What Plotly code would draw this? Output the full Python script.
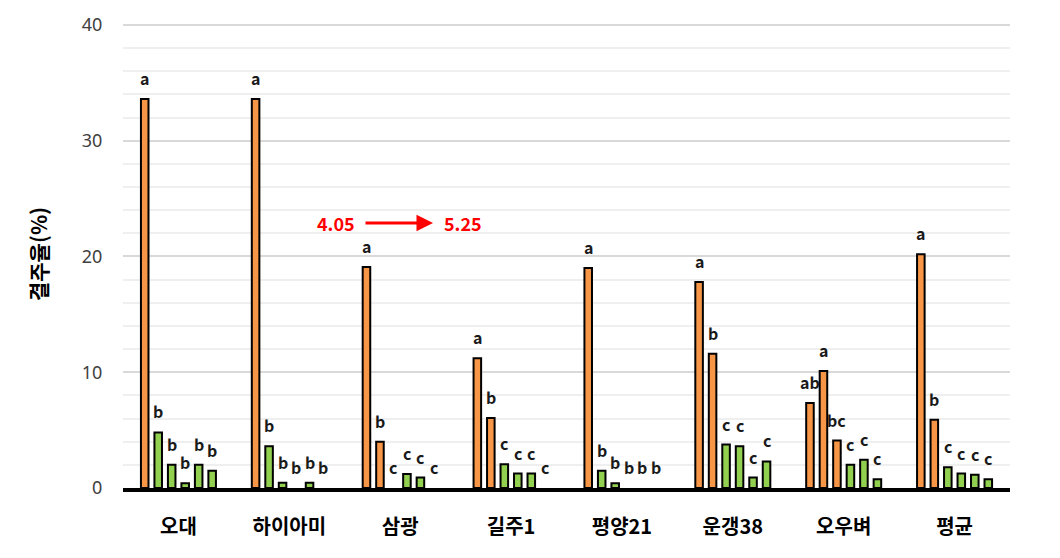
import plotly.graph_objects as go

categories = ["오대", "하이아미", "삼광", "길주1", "평양21", "운갱38", "오우벼", "평균"]

# six bars per variety (series 1..6), values in %
s1 = [33.6, 33.6, 19.1, 11.2, 19.0, 17.8, 7.35, 20.2]
s2 = [4.8, 3.6, 4.0, 6.05, 1.5, 11.6, 10.1, 5.9]
s3 = [2.0, 0.45, 0.0, 2.05, 0.4, 3.75, 4.1, 1.8]
s4 = [0.4, 0.0, 1.2, 1.25, 0.0, 3.6, 2.0, 1.25]
s5 = [2.0, 0.45, 0.9, 1.25, 0.0, 0.9, 2.45, 1.15]
s6 = [1.5, 0.0, 0.0, 0.0, 0.0, 2.3, 0.75, 0.75]

# significance letters
l1 = ["a", "a", "a", "a", "a", "a", "ab", "a"]
l2 = ["b", "b", "b", "b", "b", "b", "a", "b"]
l3 = ["b", "b", "c", "c", "b", "c", "bc", "c"]
l4 = ["b", "b", "c", "c", "b", "c", "c", "c"]
l5 = ["b", "b", "c", "c", "b", "c", "c", "c"]
l6 = ["b", "b", "c", "c", "b", "c", "c", "c"]

# bar colour class: O = orange, G = green
c1 = ["O", "O", "O", "O", "O", "O", "O", "O"]
c2 = ["G", "G", "O", "O", "G", "O", "O", "O"]
c3 = ["G", "G", "G", "G", "G", "G", "O", "G"]
c4 = ["G", "G", "G", "G", "G", "G", "G", "G"]
c5 = ["G", "G", "G", "G", "G", "G", "G", "G"]
c6 = ["G", "G", "G", "G", "G", "G", "G", "G"]

y_ticks = [0, 10, 20, 30, 40]
note_from, note_to = "4.05", "5.25"

series = [s1, s2, s3, s4, s5, s6]
letters = [l1, l2, l3, l4, l5, l6]
cls = [c1, c2, c3, c4, c5, c6]
palette = {"O": "#F79646", "G": "#92D050"}

W, H = 1060, 558
ML, MR, MT, MB = 123, 50, 18, 70
BARGAP, GROUPGAP = 0.27, 0.44
plot_w = W - ML - MR
slot = plot_w / len(categories) * (1 - BARGAP) / len(series)

KFONT = "Noto Sans CJK KR"

fig = go.Figure()
for i, (vals, cl) in enumerate(zip(series, cls)):
    fig.add_trace(go.Bar(
        x=categories, y=vals, name=f"s{i+1}",
        marker=dict(color=[palette[c] for c in cl],
                    line=dict(color="black",
                              width=[2 if v > 0 else 0 for v in vals])),
        showlegend=False, hoverinfo="skip",
    ))

annotations = []
for i, (vals, labs) in enumerate(zip(series, letters)):
    for cat, v, lab in zip(categories, vals, labs):
        annotations.append(dict(
            x=cat, y=v, xref="x", yref="y", text=f"<b>{lab}</b>",
            showarrow=False, yanchor="bottom", xanchor="center",
            xshift=(i - (len(series) - 1) / 2) * slot, yshift=7,
            font=dict(family=KFONT, size=16, color="#1a1a1a"),
        ))

# red note with arrow
annotations.append(dict(x=0.2398, y=22.9, xref="paper", yref="y",
                        xanchor="center", yanchor="middle",
                        text=f"<b>{note_from}</b>", showarrow=False,
                        font=dict(family=KFONT, size=18, color="#FF0000")))
annotations.append(dict(x=0.3837, y=22.9, xref="paper", yref="y",
                        xanchor="center", yanchor="middle",
                        text=f"<b>{note_to}</b>", showarrow=False,
                        font=dict(family=KFONT, size=18, color="#FF0000")))
annotations.append(dict(x=0.3495, y=22.9, xref="paper", yref="y",
                        ax=-69, ay=0, text="", showarrow=True,
                        arrowhead=2, arrowsize=1.1, arrowwidth=3,
                        arrowcolor="#FF0000", standoff=0))

fig.update_layout(
    width=W, height=H,
    margin=dict(l=ML, r=MR, t=MT, b=MB),
    paper_bgcolor="white", plot_bgcolor="white",
    barmode="group", bargap=BARGAP, bargroupgap=GROUPGAP,
    annotations=annotations,
    xaxis=dict(
        showgrid=False, showline=True, linecolor="black", linewidth=4,
        ticks="outside", ticklen=18, tickcolor="rgba(0,0,0,0)",
        tickfont=dict(family=KFONT, size=20, color="black", weight="bold"),
    ),
    yaxis=dict(
        range=[0, 40.43], tickvals=y_ticks,
        showgrid=True, gridcolor="#D9D9D9", gridwidth=1.5,
        minor=dict(tickvals=[v for v in range(2, 40, 2) if v % 10],
                   showgrid=True, gridcolor="#EFEFEF", gridwidth=1.5),
        zeroline=False, showline=False,
        ticks="outside", ticklen=16, tickcolor="rgba(0,0,0,0)",
        tickfont=dict(family="Noto Sans", size=18, color="#404040"),
        title=dict(text="<b>결주율(%)</b>", standoff=28,
                   font=dict(family=KFONT, size=21, color="black")),
    ),
)

fig.write_html("out.html")
